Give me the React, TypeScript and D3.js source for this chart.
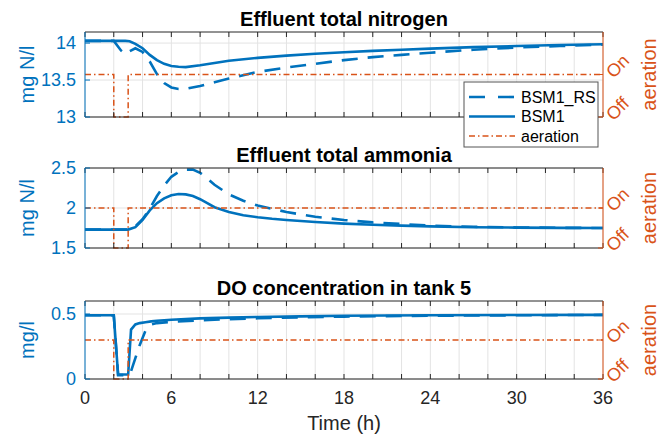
import React from 'react'
import * as d3 from 'd3'

// time grids (h) and series
const tnTime = [0, 2, 2.5, 2.8, 3.1, 3.5, 4, 4.5, 5, 5.5, 6, 6.5, 7, 8, 9, 10, 12, 14, 16, 18, 20, 22, 24, 27, 30, 33, 36]
const tnBSM1 = [14.03, 14.03, 14.03, 14.03, 14.025, 13.99, 13.93, 13.84, 13.77, 13.72, 13.69, 13.68, 13.675, 13.7, 13.73, 13.76, 13.8, 13.83, 13.855, 13.875, 13.895, 13.91, 13.925, 13.945, 13.96, 13.975, 13.985]
const tnRS = [14.03, 14.03, 13.9, 13.85, 13.89, 13.93, 13.88, 13.75, 13.58, 13.46, 13.4, 13.38, 13.38, 13.42, 13.47, 13.52, 13.61, 13.67, 13.72, 13.77, 13.81, 13.84, 13.87, 13.91, 13.94, 13.96, 13.98]

const nhTime = [0, 3, 3.5, 4, 4.5, 5, 5.5, 6, 6.5, 7, 7.5, 8, 8.5, 9, 10, 11, 12, 13, 14, 16, 18, 20, 22, 24, 27, 30, 33, 36]
const nhBSM1 = [1.73, 1.73, 1.76, 1.85, 1.97, 2.06, 2.12, 2.16, 2.175, 2.17, 2.15, 2.11, 2.06, 2.01, 1.95, 1.91, 1.885, 1.865, 1.85, 1.825, 1.805, 1.79, 1.78, 1.77, 1.76, 1.755, 1.752, 1.75]
const nhRS = [1.73, 1.73, 1.77, 1.86, 1.99, 2.15, 2.28, 2.39, 2.45, 2.48, 2.48, 2.44, 2.37, 2.29, 2.17, 2.09, 2.03, 1.99, 1.95, 1.89, 1.85, 1.82, 1.8, 1.78, 1.765, 1.757, 1.752, 1.75]

const doTime = [0, 2, 2.3, 3, 3.2, 3.5, 3.8, 4.2, 4.6, 5, 6, 8, 10, 12, 15, 18, 24, 30, 36]
const doBSM1 = [0.49, 0.49, 0.035, 0.035, 0.38, 0.42, 0.43, 0.437, 0.443, 0.448, 0.456, 0.466, 0.472, 0.477, 0.482, 0.486, 0.49, 0.492, 0.493]
const doRS = [0.49, 0.49, 0.03, 0.03, 0.06, 0.16, 0.26, 0.37, 0.42, 0.43, 0.44, 0.452, 0.46, 0.467, 0.474, 0.48, 0.487, 0.49, 0.493]

// aeration on/off switching (1 = on, 0 = off)
const aerTime = [0, 2, 3, 36]
const aerState = [1, 0, 1, 1]

const xTicks = [0, 6, 12, 18, 24, 30, 36]
const legendLabels = ['BSM1_RS', 'BSM1', 'aeration']

const BLUE = '#0072BD'
const ORANGE = '#D95319'
const AXIS = '#262626'
const FONT = '"Liberation Sans", Arial, sans-serif'

const left = 85, right = 603
const x = d3.scaleLinear().domain([0, 36]).range([left, right])
const minorTicks = d3.range(0, 37, 2)

function Panel(props) {
  const { title, top, height, yDomain, yTicks, yLabel, fmt, time, bsm1, rs, showX, legend } = props
  const bottom = top + height
  const y = d3.scaleLinear().domain(yDomain).range([bottom, top])
  const yr = d3.scaleLinear().domain([0, 2]).range([bottom, top])
  const line = d3.line().x(d => x(d[0])).y(d => y(d[1]))
  const aerLine = d3.line().x(d => x(d[0])).y(d => yr(d[1])).curve(d3.curveStepAfter)
  const ptsB = time.map((t, i) => [t, bsm1[i]])
  const ptsR = time.map((t, i) => [t, rs[i]])
  const ptsA = aerTime.map((t, i) => [t, aerState[i]])
  const mid = (top + bottom) / 2
  return (
    <g>
      <text x={(left + right) / 2} y={top - 6} textAnchor="middle" fontWeight="bold" fontSize={20} fill="#000">{title}</text>
      {minorTicks.map(t => (
        <line key={'g' + t} x1={x(t)} x2={x(t)} y1={top} y2={bottom} stroke="#e3e3e3" strokeWidth={1} />
      ))}
      {yTicks.map(v => (
        <line key={'h' + v} x1={left} x2={right} y1={y(v)} y2={y(v)} stroke="#e3e3e3" strokeWidth={1} />
      ))}
      <path d={line(ptsR)} fill="none" stroke={BLUE} strokeWidth={2.6} strokeDasharray="16,10" />
      <path d={line(ptsB)} fill="none" stroke={BLUE} strokeWidth={2.6} />
      <path d={aerLine(ptsA)} fill="none" stroke={ORANGE} strokeWidth={1.5} strokeDasharray="6,3,1.5,3" />
      {/* box */}
      <line x1={left} x2={right} y1={top} y2={top} stroke={AXIS} strokeWidth={1} />
      <line x1={left} x2={right} y1={bottom} y2={bottom} stroke={AXIS} strokeWidth={1} />
      {minorTicks.map(t => (
        <g key={'t' + t}>
          <line x1={x(t)} x2={x(t)} y1={top} y2={top + 5} stroke={AXIS} />
          <line x1={x(t)} x2={x(t)} y1={bottom} y2={bottom - 5} stroke={AXIS} />
        </g>
      ))}
      <line x1={left} x2={left} y1={top} y2={bottom} stroke={BLUE} strokeWidth={1} />
      <line x1={right} x2={right} y1={top} y2={bottom} stroke={ORANGE} strokeWidth={1} />
      {yTicks.map(v => (
        <g key={'y' + v}>
          <line x1={left} x2={left + 5} y1={y(v)} y2={y(v)} stroke={BLUE} />
          <text x={left - 9} y={y(v)} dy="0.35em" textAnchor="end" fontSize={18} fill={BLUE}>{fmt(v)}</text>
        </g>
      ))}
      <text transform={`translate(27,${mid}) rotate(-90)`} textAnchor="middle" dy="0.35em" fontSize={20} fill={BLUE}>{yLabel}</text>
      {[0, 1].map(v => (
        <g key={'r' + v}>
          <line x1={right} x2={right - 5} y1={yr(v)} y2={yr(v)} stroke={ORANGE} />
          <text transform={`translate(${right + 6},${yr(v)}) rotate(-45)`} dy="0.35em" fontSize={18} fill={ORANGE}>{v ? 'On' : 'Off'}</text>
        </g>
      ))}
      <text transform={`translate(649,${mid}) rotate(-90)`} textAnchor="middle" dy="0.35em" fontSize={20} fill={ORANGE}>aeration</text>
      {showX && xTicks.map(t => (
        <text key={'x' + t} x={x(t)} y={bottom + 25} textAnchor="middle" fontSize={18} fill={AXIS}>{t}</text>
      ))}
      {showX && (
        <text x={(left + right) / 2} y={bottom + 51} textAnchor="middle" fontSize={20} fill={AXIS}>Time (h)</text>
      )}
      {legend && (
        <g>
          <rect x={464} y={82} width={134} height={65} fill="#fff" stroke="#555" strokeWidth={1} />
          {legendLabels.map((lab, i) => {
            const ly = 97 + i * 19.5
            const style = i === 0
              ? { stroke: BLUE, w: 2.6, dash: '16,13' }
              : i === 1 ? { stroke: BLUE, w: 2.6, dash: null } : { stroke: ORANGE, w: 1.5, dash: '6,3,1.5,3' }
            return (
              <g key={lab}>
                <line x1={469} x2={515} y1={ly} y2={ly} stroke={style.stroke} strokeWidth={style.w} strokeDasharray={style.dash || undefined} />
                <text x={521} y={ly} dy="0.35em" fontSize={16} fill="#000">{lab}</text>
              </g>
            )
          })}
        </g>
      )}
    </g>
  )
}

export default function App() {
  return (
    <svg width={662} height={436} style={{ position: 'absolute', left: 0, top: 0, background: '#fff' }} fontFamily={FONT}>
      <Panel title="Effluent total nitrogen" top={32} height={85} yDomain={[13, 14.15]} yTicks={[13, 13.5, 14]}
        yLabel="mg N/l" fmt={d3.format('')} time={tnTime} bsm1={tnBSM1} rs={tnRS} legend />
      <Panel title="Effluent total ammonia" top={168} height={80} yDomain={[1.5, 2.5]} yTicks={[1.5, 2, 2.5]}
        yLabel="mg N/l" fmt={d3.format('')} time={nhTime} bsm1={nhBSM1} rs={nhRS} />
      <Panel title="DO concentration in tank 5" top={301} height={78} yDomain={[0, 0.6]} yTicks={[0, 0.5]}
        yLabel="mg/l" fmt={d3.format('')} time={doTime} bsm1={doBSM1} rs={doRS} showX />
    </svg>
  )
}
